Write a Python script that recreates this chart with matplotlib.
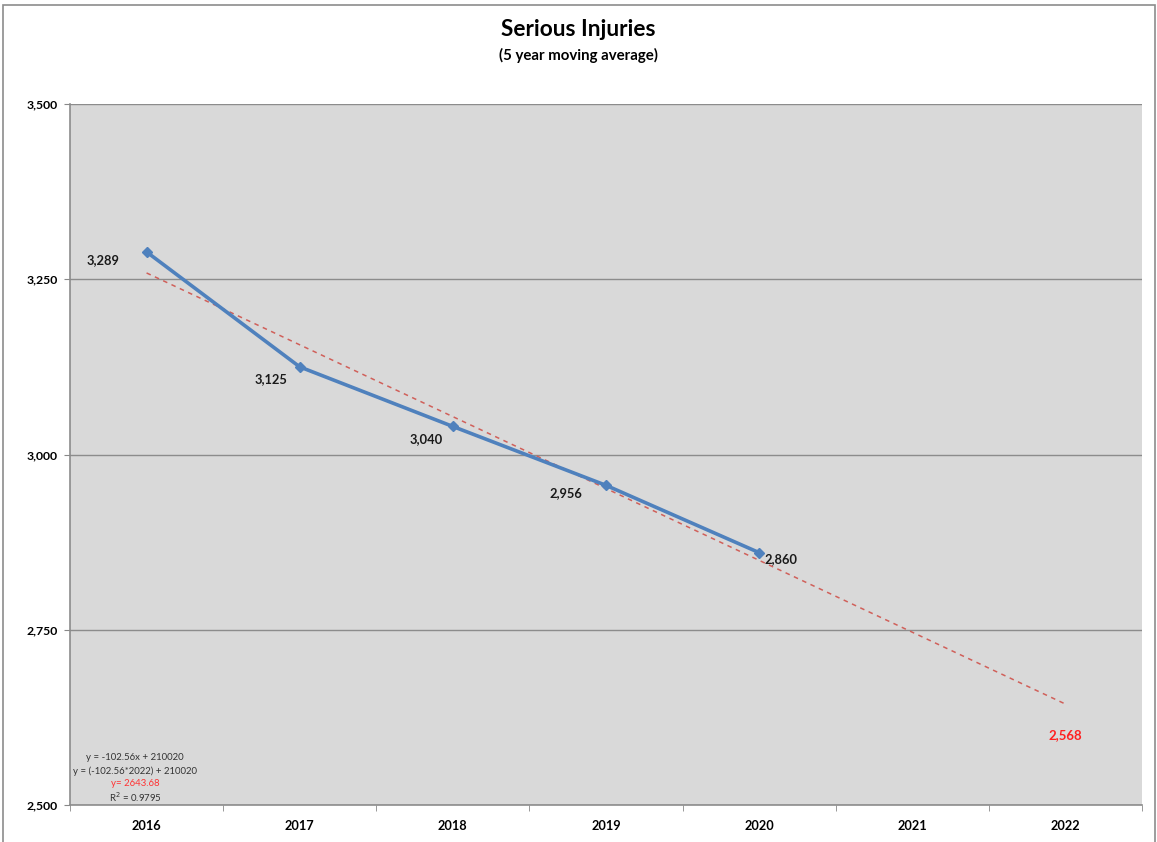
import matplotlib
matplotlib.use("Agg")
import matplotlib.pyplot as plt
from matplotlib.patches import Rectangle

plt.rcParams['font.family'] = ['Lato', 'DejaVu Sans']

years = [2016, 2017, 2018, 2019, 2020, 2021, 2022]
actual_years = [2016, 2017, 2018, 2019, 2020]
actual_values = [3289, 3125, 3040, 2956, 2860]
trend_years = [2016, 2022]
trend_values = [3259, 2644]
forecast_year = 2022
forecast_value = 2568
label_offsets = [(-31.5, -5.8), (-21, -8.6), (-19.4, -9.4), (-28.8, -5.8), (16, -4.3)]
eq_lines = ["y = -102.56x + 210020", "y = (-102.56*2022) + 210020", "y= 2643.68", "R$^2$ = 0.9795"]
eq_colors = ["#333333", "#333333", "#ff3333", "#333333"]

fig = plt.figure(figsize=(11.57, 8.42), dpi=100)
ax = fig.add_axes([70/1157, 1-805/842, (1142-70)/1157, (805-104)/842])
ax.set_facecolor('#d9d9d9')

xpos = {y: i for i, y in enumerate(years)}
ax.set_xlim(-0.5, len(years) - 0.5)
ax.set_ylim(2500, 3500)
ax.set_yticks([2500, 2750, 3000, 3250, 3500])
ax.set_yticklabels([f"{v:,}" for v in [2500, 2750, 3000, 3250, 3500]], fontsize=8.8, fontweight='bold')
ax.set_xticks(range(len(years)))
ax.set_xticklabels([str(y) for y in years], fontsize=9.2, fontweight='bold')
ax.tick_params(axis='x', length=0, pad=11)
ax.tick_params(axis='y', length=4, color='#888888', pad=5)
ax.set_xticks([i - 0.5 for i in range(len(years) + 1)], minor=True)
ax.tick_params(axis='x', which='minor', length=4, color='#888888')
ax.grid(axis='y', color='#8c8c8c', linewidth=1.0)
ax.set_axisbelow(True)
for s in ['top', 'right']:
    ax.spines[s].set_visible(False)
for s in ['left', 'bottom']:
    ax.spines[s].set_color('#8c8c8c')
    ax.spines[s].set_linewidth(1.2)

tx = [xpos[y] for y in trend_years]
ax.plot(tx, trend_values, linestyle=(0, (3, 3)), color='#d0605a', linewidth=1.1, zorder=2)

ax_x = [xpos[y] for y in actual_years]
ax.plot(ax_x, actual_values, color='#4f81bd', linewidth=2.6, marker='D', markersize=5.5,
        markerfacecolor='#4f81bd', markeredgecolor='#4f81bd', zorder=3)

for x, v, off in zip(ax_x, actual_values, label_offsets):
    ax.annotate(f"{v:,}", (x, v), xytext=off, textcoords='offset points', ha='center', va='center',
                fontsize=9.3, fontweight='bold', color='#1a1a1a')

ax.annotate(f"{forecast_value:,}", (xpos[forecast_year], forecast_value), xytext=(0, 16),
            textcoords='offset points', ha='center', va='center', fontsize=9.5, fontweight='bold', color='#ff2020')

eq_y = [757, 771, 784, 797]
for txt, c, yy in zip(eq_lines, eq_colors, eq_y):
    fig.text(135/1157, 1 - yy/842, txt, ha='center', va='center', fontsize=6.9, color=c)

fig.text(0.5, 1 - 30/842, "Serious Injuries", ha='center', va='center', fontsize=16.3, fontweight='bold')
fig.text(0.5, 1 - 55/842, "(5 year moving average)", ha='center', va='center', fontsize=10.8, fontweight='bold')

fig.add_artist(Rectangle((3/1157, -0.01), (1155-3)/1157, 1 - 5/842 + 0.01, transform=fig.transFigure,
                         fill=False, edgecolor='#8c8c8c', linewidth=1.2))

fig.savefig("out.png", dpi=100)
